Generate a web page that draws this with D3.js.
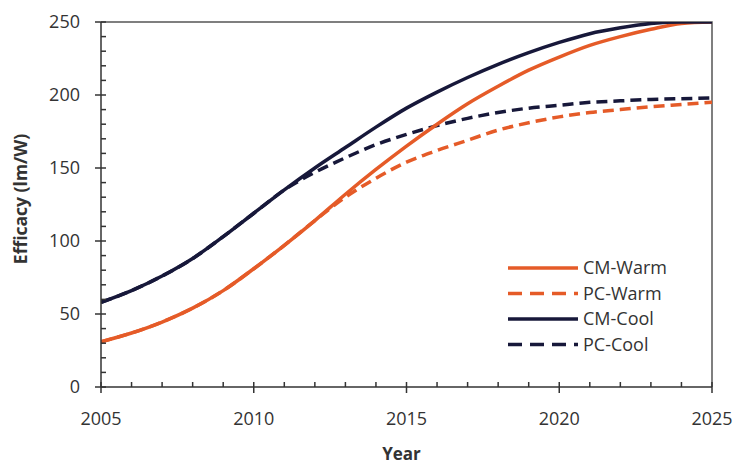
<!DOCTYPE html>
<html>
<head>
  <meta charset="UTF-8">
  <title>Efficacy</title>
  <script src="https://cdn.jsdelivr.net/npm/d3@7"></script>
  <style>
    body { margin: 0; background: #fff; }
    text { font-family: "Open Sans", sans-serif; fill: #333; }
  </style>
</head>
<body>

<div class="chart"></div>

<script>

  var years = d3.range(2005, 2026);
  var cmWarm = [31, 37, 44.5, 54, 66, 81, 97, 114, 132, 149, 165, 180, 194, 206, 217, 226, 234, 240, 245, 249, 250];
  var pcWarm = [31, 37, 44.5, 54, 66, 81, 97, 114, 130, 143, 154, 162, 169, 176, 181, 185, 188, 190, 192, 193.5, 195];
  var cmCool = [58, 66, 76, 88, 103, 119, 135, 150, 164, 178, 191, 202, 212, 221, 229, 236, 242, 246, 249, 250, 250];
  var pcCool = [58, 66, 76, 88, 103, 119, 135, 147, 157, 166, 173, 179, 184, 188, 191, 193, 195, 196, 197, 197.5, 198];
  var seriesNames = ['CM-Warm', 'PC-Warm', 'CM-Cool', 'PC-Cool'];
  var yTicks = [0, 50, 100, 150, 200, 250];
  var xTicks = [2005, 2010, 2015, 2020, 2025];

  var orange = '#e55b28', navy = '#17183a';
  var series = [
    { name: 'PC-Warm', values: pcWarm, color: orange, dash: '11,6' },
    { name: 'PC-Cool', values: pcCool, color: navy, dash: '11,6' },
    { name: 'CM-Warm', values: cmWarm, color: orange, dash: null },
    { name: 'CM-Cool', values: cmCool, color: navy, dash: null }
  ];

  var svg = d3.select('.chart').append('svg')
    .attr('width', 735)
    .attr('height', 464);

  var x = d3.scaleLinear().domain([2005, 2025]).range([101, 712]);
  var y = d3.scaleLinear().domain([0, 250]).range([387, 22]);

  svg.append('defs').append('clipPath').attr('id', 'plot')
    .append('rect').attr('x', 101).attr('y', 22).attr('width', 611).attr('height', 365);

  // frame top + right
  svg.append('path')
    .attr('d', `M${x(2005)},${y(250)}H${x(2025)}V${y(0)}`)
    .attr('fill', 'none').attr('stroke', '#555').attr('stroke-width', 1.5);

  var line = d3.line()
    .x((d, i) => x(years[i]))
    .y(d => y(d))
    .curve(d3.curveMonotoneX);

  svg.append('g').attr('clip-path', 'url(#plot)')
    .selectAll('path')
    .data(series)
    .enter().append('path')
    .attr('d', d => line(d.values))
    .attr('fill', 'none')
    .attr('stroke', d => d.color)
    .attr('stroke-width', 3.5)
    .attr('stroke-dasharray', d => d.dash);

  // axes
  var xAxis = svg.append('g').attr('transform', `translate(0, ${y(0)})`);
  xAxis.append('line').attr('x1', x(2005)).attr('x2', x(2025)).attr('stroke', '#333').attr('stroke-width', 1.5);
  xAxis.selectAll('.minor').data(d3.range(2005, 2026)).enter().append('line')
    .attr('x1', d => x(d)).attr('x2', d => x(d))
    .attr('y1', d => xTicks.includes(d) ? 6 : 0).attr('y2', -5)
    .attr('stroke', '#333').attr('stroke-width', 1.5);
  xAxis.selectAll('text').data(xTicks).enter().append('text')
    .attr('x', d => x(d)).attr('y', 38)
    .attr('text-anchor', 'middle').attr('font-size', 18)
    .text(d => d);

  var yAxis = svg.append('g').attr('transform', `translate(${x(2005)}, 0)`);
  yAxis.append('line').attr('y1', y(0)).attr('y2', y(250)).attr('stroke', '#333').attr('stroke-width', 1.5);
  yAxis.selectAll('.minor').data(d3.range(0, 251, 10)).enter().append('line')
    .attr('y1', d => y(d)).attr('y2', d => y(d))
    .attr('x1', d => yTicks.includes(d) ? -6 : 0).attr('x2', 5)
    .attr('stroke', '#333').attr('stroke-width', 1.5);
  yAxis.selectAll('text').data(yTicks).enter().append('text')
    .attr('x', -21).attr('y', d => y(d)).attr('dy', '0.35em')
    .attr('text-anchor', 'end').attr('font-size', 18)
    .text(d => d);

  svg.append('text')
    .attr('x', (x(2005) + x(2025)) / 2 - 5).attr('y', 460)
    .attr('text-anchor', 'middle').attr('font-size', 17).attr('font-weight', 'bold')
    .text('Year');

  svg.append('text')
    .attr('transform', 'translate(27, 199) rotate(-90)')
    .attr('text-anchor', 'middle').attr('font-size', 17.5).attr('font-weight', 'bold')
    .text('Efficacy (lm/W)');

  // legend
  var legendStyle = {
    'CM-Warm': series[2], 'PC-Warm': series[0], 'CM-Cool': series[3], 'PC-Cool': series[1]
  };
  var legend = svg.append('g').attr('transform', 'translate(508, 268)');
  var rows = legend.selectAll('g').data(seriesNames).enter().append('g')
    .attr('transform', (d, i) => `translate(0, ${i * 25.5})`);
  rows.append('line')
    .attr('x1', 0).attr('x2', 70)
    .attr('stroke', d => legendStyle[d].color)
    .attr('stroke-width', 3.5)
    .attr('stroke-dasharray', d => legendStyle[d].dash ? '14,8' : null);
  rows.append('text')
    .attr('x', 75).attr('dy', '0.35em')
    .attr('font-size', 18)
    .text(d => d);

</script>

</body>
</html>
